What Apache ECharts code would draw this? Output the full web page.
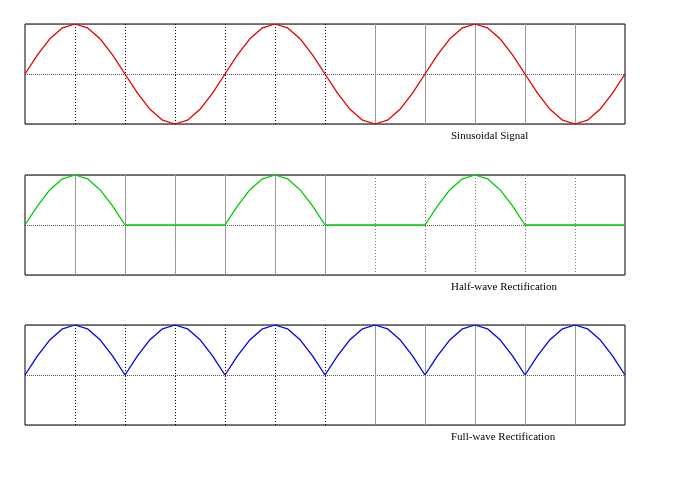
<!DOCTYPE html>
<html><head><meta charset="utf-8">
<script src="https://cdn.jsdelivr.net/npm/echarts@6/dist/echarts.min.js"></script>
<style>html,body{margin:0;padding:0;background:#fff}#c{width:693px;height:480px}</style>
</head><body><div id="c"></div>
<script>
const xs = [0,0.25,0.5,0.75,1,1.25,1.5,1.75,2,2.25,2.5,2.75,3,3.25,3.5,3.75,4,4.25,4.5,4.75,5,5.25,5.5,5.75,6,6.25,6.5,6.75,7,7.25,7.5,7.75,8,8.25,8.5,8.75,9,9.25,9.5,9.75,10,10.25,10.5,10.75,11,11.25,11.5,11.75,12];
const sine = [0,.383,.707,.924,1,.924,.707,.383,0,-.383,-.707,-.924,-1,-.924,-.707,-.383,
0,.383,.707,.924,1,.924,.707,.383,0,-.383,-.707,-.924,-1,-.924,-.707,-.383,
0,.383,.707,.924,1,.924,.707,.383,0,-.383,-.707,-.924,-1,-.924,-.707,-.383,0];
const half = [0,.383,.707,.924,1,.924,.707,.383,0,0,0,0,0,0,0,0,
0,.383,.707,.924,1,.924,.707,.383,0,0,0,0,0,0,0,0,
0,.383,.707,.924,1,.924,.707,.383,0,0,0,0,0,0,0,0,0];
const full = [0,.383,.707,.924,1,.924,.707,.383,0,.383,.707,.924,1,.924,.707,.383,
0,.383,.707,.924,1,.924,.707,.383,0,.383,.707,.924,1,.924,.707,.383,
0,.383,.707,.924,1,.924,.707,.383,0,.383,.707,.924,1,.924,.707,.383,0];
const titles = ['Sinusoidal Signal','Half-wave Rectification','Full-wave Rectification'];
const colors = ['#e00000','#00cc00','#0000ee'];
const datas = [sine, half, full];
const tops = [24, 175, 325];
const vlines = [1,2,3,4,5,6,7,8,9,10,11];

const chart = echarts.init(document.getElementById('c'));
const grid=[],xAxis=[],yAxis=[],series=[],title=[];
for(let i=0;i<3;i++){
  grid.push({left:25,width:600,top:tops[i],height:100,show:true,borderColor:'#000',borderWidth:1,backgroundColor:'#fff'});
  xAxis.push({gridIndex:i,type:'value',min:0,max:12,interval:1,axisLabel:{show:false},axisTick:{show:false},axisLine:{show:false},splitLine:{show:false}});
  yAxis.push({gridIndex:i,type:'value',min:-1,max:1,interval:1,axisLabel:{show:false},axisTick:{show:false},axisLine:{show:false},
    splitLine:{show:true,lineStyle:{color:'#555',type:[1,1],width:1}}});
  const dottedFirst = i!==1;
  const ml = vlines.map(v=>{
    const dotted = (v<=6)===dottedFirst;
    return {xAxis:v,lineStyle: dotted?{color:(i===1?'#777':'#000'),type:[1,2],width:1}:{color:'#999',type:'solid',width:1}};
  });
  series.push({type:'line',xAxisIndex:i,yAxisIndex:i,data:xs.map((x,k)=>[x,datas[i][k]]),smooth:false,showSymbol:false,
    lineStyle:{color:colors[i],width:1.3},z:3,
    markLine:{silent:true,symbol:'none',label:{show:false},data:ml,z:1,animation:false}});
  title.push({text:titles[i],left:446,top:tops[i]+102,textStyle:{fontFamily:'Liberation Serif',fontWeight:'normal',fontSize:11,color:'#000'}});
}
chart.setOption({animation:false,title,grid,xAxis,yAxis,series});
</script></body></html>
